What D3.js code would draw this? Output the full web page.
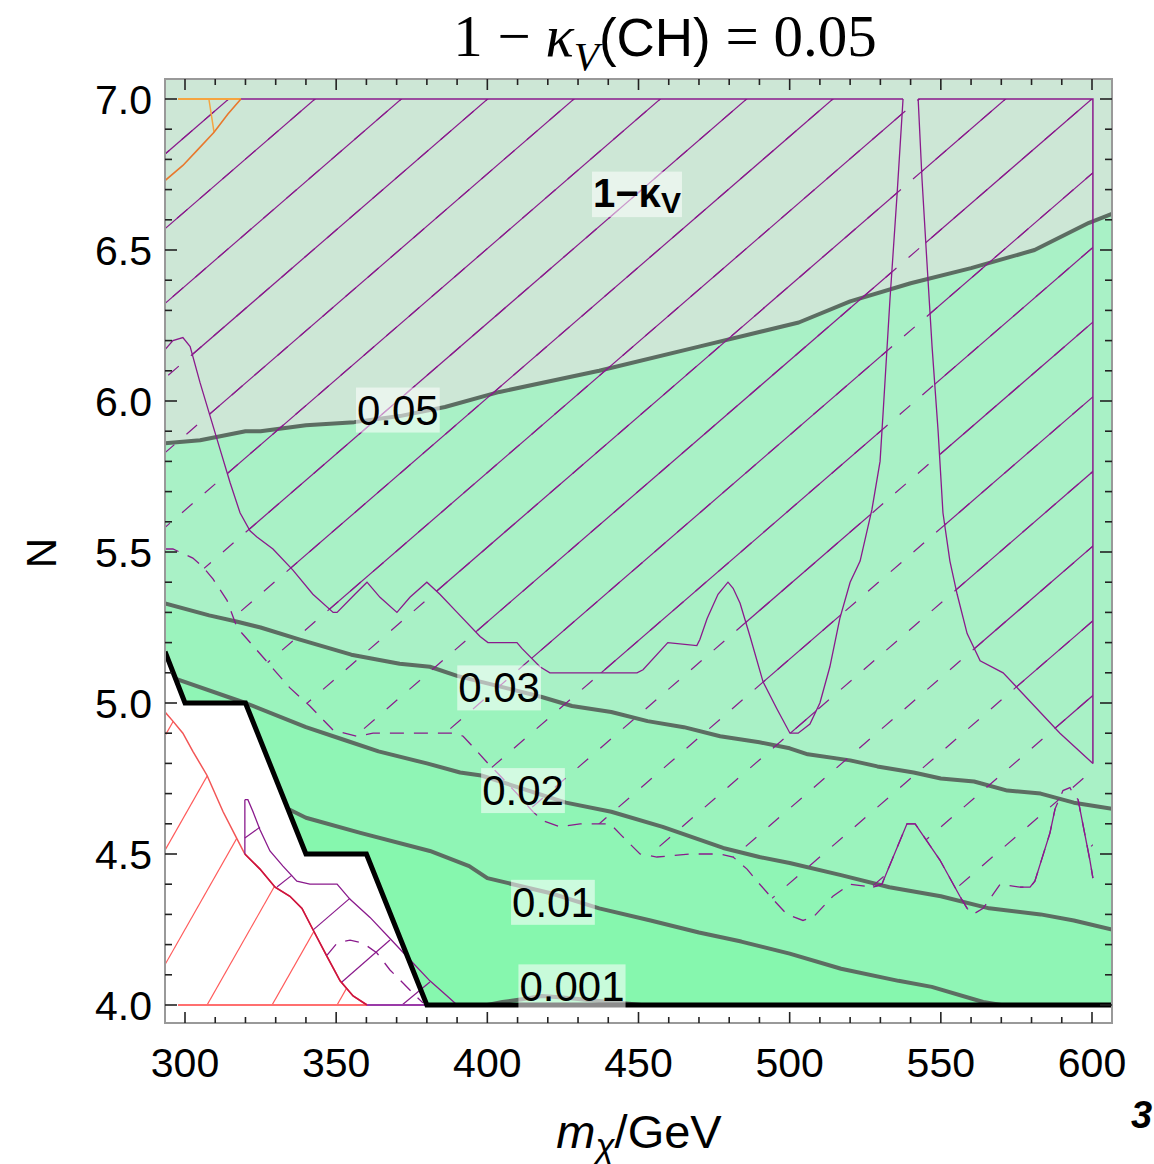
<!DOCTYPE html>
<html>
<head>
<meta charset="utf-8">
<script src="https://cdn.jsdelivr.net/npm/d3@7"></script>
<style>
  body { margin: 0; background: #fff; }
  text { font-family: "Liberation Sans", Arial, sans-serif; }
</style>
</head>
<body>
<svg id="chart" width="1154" height="1164"></svg>
<script>
// contour lines of 1-kappa_V, points are [m_chi (GeV), N]
const contour05 = [[293.4,5.86],[305,5.87],[320,5.90],[325,5.90],[340,5.92],[356,5.93],[371,5.95],[386,5.98],[404,6.03],[437,6.10],[470,6.18],[503,6.26],[520,6.33],[540,6.39],[560,6.44],[581,6.50],[599,6.59],[606.6,6.62]];
const contour03 = [[293.4,5.33],[308,5.29],[317,5.27],[325,5.25],[338,5.21],[355,5.16],[371,5.13],[381,5.12],[390,5.09],[418,5.02],[428,4.99],[441,4.97],[453,4.94],[465,4.92],[477,4.89],[490,4.87],[500,4.85],[506,4.83],[520,4.81],[529,4.79],[541,4.77],[550,4.75],[561,4.74],[572,4.71],[583,4.70],[594,4.67],[606.6,4.65]];
const contour02 = [[293.4,5.09],[297,5.08],[320,5.00],[340,4.92],[352,4.88],[364,4.84],[380,4.80],[391,4.77],[398,4.76],[426,4.67],[441,4.64],[458,4.59],[478,4.52],[490,4.49],[500,4.47],[517,4.43],[533,4.39],[550,4.36],[566,4.32],[583,4.30],[594,4.28],[606.6,4.25]];
const contour01 = [[293.4,4.65],[334,4.65],[340,4.62],[358,4.57],[381,4.51],[394,4.46],[400,4.42],[421,4.37],[437,4.32],[454,4.28],[470,4.24],[484,4.21],[500,4.17],[517,4.12],[536,4.08],[547,4.06],[564,4.01],[570,4.0],[606.6,4.0]];
const contour001 = [[400,4.0],[405,4.01],[412,4.02],[418,4.03],[425,4.025],[435,4.015],[446,4.005],[451,4.0]];
const contourLevels = ["0.05", "0.03", "0.02", "0.01", "0.001"];
const bandColors = ["#cde7d6", "#a9f1c6", "#9bf3bd", "#8ff5b5", "#86f7ae"];
const labelPos = [[370.4,5.97],[403.9,5.05],[411.8,4.71],[421.7,4.34],[428,4.06]];

// allowed-region edge (thick black)
const boundary = [[293.4,5.17],[300,5.0],[320,5.0],[340,4.5],[360,4.5],[380,4.0],[606.6,4.0]];

// solid-hatched purple region
const aBottom = [[293.4,6.17],[296,6.20],[299.3,6.21],[301.7,6.18],[305,6.06],[308.3,5.95],[311.6,5.84],[314.9,5.73],[318.2,5.63],[321.5,5.57],[323.8,5.55],[329.1,5.51],[335.7,5.44],[342.3,5.36],[349,5.30],[350.3,5.30],[356.2,5.36],[360.2,5.40],[364.5,5.35],[370.1,5.30],[374.4,5.35],[380,5.40],[384.3,5.36],[390,5.30],[397.6,5.22],[400.2,5.20],[409.8,5.20],[411.5,5.18],[417.4,5.12],[420.7,5.10],[430.7,5.10],[440.6,5.10],[449.5,5.10],[451.5,5.11],[459.7,5.20],[469.3,5.19],[470.3,5.21],[472.7,5.28],[476.3,5.36],[479.6,5.40],[481.3,5.38],[483.6,5.33],[486.9,5.22],[491.2,5.07],[495.8,4.98],[500.1,4.90],[502.8,4.90],[506.7,4.93],[510,5.00],[513.3,5.12],[516.6,5.28],[520,5.40],[523.3,5.47],[527.2,5.64],[529.9,5.80],[530.9,5.96],[533.2,6.34],[535.5,6.68],[537.5,7.0]];
const aRight = [[542.5,7.0],[543.8,6.73],[545.4,6.46],[547.1,6.18],[549.1,5.90],[550.7,5.63],[553,5.47],[555.4,5.36],[558.7,5.23],[563,5.14],[570.6,5.10],[577.2,5.03],[589.4,4.90],[600.3,4.80]];

// dashed-hatched purple region
const bBottom = [[293.4,5.51],[296,5.51],[302.6,5.48],[306,5.45],[309.3,5.41],[313.9,5.34],[317.2,5.25],[334.7,5.05],[341.3,4.99],[349,4.91],[356.9,4.89],[362.2,4.90],[381,4.90],[388.6,4.90],[392,4.89],[396.6,4.84],[400.2,4.80],[403.2,4.77],[409.8,4.70],[415.1,4.64],[418.4,4.61],[424,4.59],[430.7,4.60],[437.3,4.60],[440.6,4.60],[444.5,4.56],[450.5,4.50],[456.1,4.49],[467,4.50],[477,4.50],[481.3,4.49],[485.9,4.45],[489.2,4.41],[494.5,4.35],[499.1,4.30],[504.4,4.28],[507.7,4.29],[514.3,4.36],[520,4.40],[527.6,4.39],[530.5,4.40],[538.8,4.60],[541.5,4.60],[549.7,4.48],[556.3,4.36],[558.7,4.32],[560.6,4.30],[564,4.32],[569.6,4.40],[576.2,4.39],[579.5,4.39],[581.1,4.41],[586.1,4.57],[587.8,4.65],[590.4,4.71],[592.7,4.72],[593.7,4.70],[595.4,4.68],[599.3,4.48],[600.3,4.42]];
const bSolidParts = [
  [[527.6,4.39],[530.5,4.40],[538.8,4.60],[541.5,4.60],[549.7,4.48],[556.3,4.36],[558.7,4.32]],
  [[576.2,4.39],[579.5,4.39],[581.1,4.41],[586.1,4.57],[587.8,4.65]],
  [[595.4,4.68],[599.3,4.48],[600.3,4.42]]
];

// lower-left regions
const redCurve = [[293.4,4.97],[296,4.94],[299.3,4.90],[302.6,4.84],[307.3,4.76],[312.6,4.64],[317.2,4.55],[319.8,4.50],[324.8,4.45],[329.8,4.39],[334.7,4.36],[338.7,4.32],[342.3,4.25],[347,4.16],[351.3,4.08],[355.6,4.03],[360.2,4.0]];
const cRight = [[319.8,4.68],[320.8,4.68],[322.5,4.64],[324.8,4.58],[328.1,4.51],[332.4,4.46],[337,4.41],[341.3,4.40],[345.6,4.40],[350.3,4.40],[354.6,4.35],[361.2,4.29],[367.8,4.22],[374.4,4.15],[381,4.08],[386.7,4.03],[390,4.0]];
const cHatch = [[[319.8,4.553],[324.8,4.589]],[[330.4,4.391],[335.4,4.430]],[[342.3,4.248],[354.6,4.354]],[[351.9,4.076],[367.8,4.215]],[[371.8,4.0],[381,4.076]]];
const cDashed = [[347,4.165],[350.3,4.205],[354.6,4.215],[358.9,4.205],[363.5,4.172],[367.8,4.116],[372.1,4.073],[376.7,4.026],[378.7,4.007]];
const orangeCurve = [[293.4,6.73],[299.3,6.78],[304,6.83],[309.6,6.89],[314.2,6.95],[318.5,7.0]];
const orangeTop = [[297.7,7.0],[318.5,7.0]];
const orangeHatch = [[307.9,7.0],[309.6,6.89]];

const xTicks = [300, 350, 400, 450, 500, 550, 600];
const yTicks = [4.0, 4.5, 5.0, 5.5, 6.0, 6.5, 7.0];

const svg = d3.select("#chart");
const x = d3.scaleLinear().domain([300, 600]).range([185, 1092]);
const y = d3.scaleLinear().domain([4, 7]).range([1005, 99]);
const frame = { left: 165, right: 1112, top: 79, bottom: 1023 };
const xMin = x.invert(frame.left), xMax = x.invert(frame.right);
const yMin = y.invert(frame.bottom), yMax = y.invert(frame.top);

const line = d3.line().x(d => x(d[0])).y(d => y(d[1]));
const poly = pts => line(pts) + "Z";

const purple = "#8a1a8c";
const defs = svg.append("defs");
defs.append("clipPath").attr("id", "frameClip").append("rect")
  .attr("x", frame.left).attr("y", frame.top)
  .attr("width", frame.right - frame.left).attr("height", frame.bottom - frame.top);

const aPolys = [aBottom.concat([[xMin, 7]]), aRight.concat([[600.3, 7]])];
const clipA = defs.append("clipPath").attr("id", "clipA");
aPolys.forEach(p => clipA.append("path").attr("d", poly(p)));
defs.append("clipPath").attr("id", "clipB").append("path")
  .attr("d", poly(bBottom.concat([[600.3, 7], [xMin, 7]])));
defs.append("clipPath").attr("id", "clipRed").append("path")
  .attr("d", poly(redCurve.concat([[360.2, 4.0], [xMin, 4.0]])));

const plot = svg.append("g").attr("clip-path", "url(#frameClip)");

// filled bands
plot.append("rect").attr("x", frame.left).attr("y", frame.top)
  .attr("width", frame.right - frame.left).attr("height", frame.bottom - frame.top)
  .attr("fill", bandColors[0]);
[contour05, contour03, contour02, contour01].forEach((c, i) => {
  plot.append("path")
    .attr("d", poly(c.concat([[c[c.length - 1][0], yMin], [xMin, yMin], [xMin, c[0][1]]])))
    .attr("fill", bandColors[i + 1]);
});

// contour lines
[contour05, contour03, contour02, contour01, contour001].forEach(c => {
  plot.append("path").attr("d", line(c))
    .attr("fill", "none").attr("stroke", "#5c6d62").attr("stroke-width", 4)
    .attr("stroke-linejoin", "round");
});

// hatch lines (same family for both purple regions)
function hatch(x0, step, slope, nRef) {
  const out = [];
  for (let k = -40; k <= 40; k++) {
    const xk = x0 + k * step;
    out.push([[xk + (yMin - nRef) / slope, yMin], [xk + (yMax - nRef) / slope, yMax]]);
  }
  return out;
}
const purpleHatch = hatch(343, 28.55, 0.00866, 7);
plot.append("g").attr("clip-path", "url(#clipB)")
  .selectAll("path").data(purpleHatch).join("path")
  .attr("d", d => line(d)).attr("stroke", purple).attr("stroke-width", 1.2)
  .attr("stroke-dasharray", "14,16").attr("fill", "none");
plot.append("g").attr("clip-path", "url(#clipA)")
  .selectAll("path").data(purpleHatch).join("path")
  .attr("d", d => line(d)).attr("stroke", purple).attr("stroke-width", 1.2).attr("fill", "none");

// purple boundaries
plot.append("path").attr("d", line(bBottom)).attr("fill", "none")
  .attr("stroke", purple).attr("stroke-width", 1.3).attr("stroke-dasharray", "14,10");
bSolidParts.forEach(p => plot.append("path").attr("d", line(p)).attr("fill", "none")
  .attr("stroke", purple).attr("stroke-width", 1.3));
plot.append("path").attr("d", line(aBottom)).attr("fill", "none").attr("stroke", purple).attr("stroke-width", 1.3);
plot.append("path").attr("d", line(aRight)).attr("fill", "none").attr("stroke", purple).attr("stroke-width", 1.3);
plot.append("path").attr("d", line([[318.5, 7], [537.5, 7]])).attr("stroke", purple).attr("stroke-width", 1.5);
plot.append("path").attr("d", line([[542.5, 7], [600.3, 7], [600.3, 4.80]])).attr("fill", "none")
  .attr("stroke", purple).attr("stroke-width", 1.5);

// orange region (top left)
plot.append("path").attr("d", line(orangeTop)).attr("stroke", "#f5a440").attr("stroke-width", 1.8);
plot.append("path").attr("d", line(orangeHatch)).attr("stroke", "#f5a440").attr("stroke-width", 1.5);
plot.append("path").attr("d", line(orangeCurve)).attr("fill", "none").attr("stroke", "#e8782c").attr("stroke-width", 1.6);

// excluded white area
plot.append("path").attr("d", poly(boundary.concat([[xMax, yMin], [xMin, yMin]])))
  .attr("fill", "#fff");

// red hatched region
plot.append("g").attr("clip-path", "url(#clipRed)")
  .selectAll("path").data(hatch(307.3, 21.5, 0.01762, 4.0)).join("path")
  .attr("d", d => line(d)).attr("stroke", "#ff5a5a").attr("stroke-width", 1.2).attr("fill", "none");
plot.append("path").attr("d", line([[297.7, 4.0], [360.2, 4.0]])).attr("stroke", "#ff6f6f").attr("stroke-width", 2);
plot.append("path").attr("d", line(redCurve)).attr("fill", "none").attr("stroke", "#f25656").attr("stroke-width", 1.5);

// lower purple region
plot.selectAll(".chatch").data(cHatch).join("path").attr("class", "chatch")
  .attr("d", d => line(d)).attr("stroke", purple).attr("stroke-width", 1.2);
plot.append("path").attr("d", line(cRight)).attr("fill", "none").attr("stroke", purple).attr("stroke-width", 1.3);
plot.append("path").attr("d", line([[319.8, 4.68], [319.8, 4.50]])).attr("stroke", purple).attr("stroke-width", 1.3);
plot.append("path").attr("d", line(redCurve.filter(d => d[0] >= 319.8))).attr("fill", "none")
  .attr("stroke", "#cc1440").attr("stroke-width", 1.6);
plot.append("path").attr("d", line([[360.2, 4.0], [390, 4.0]])).attr("stroke", "#9a3aa8").attr("stroke-width", 2);
plot.append("path").attr("d", line(cDashed)).attr("fill", "none").attr("stroke", purple)
  .attr("stroke-width", 1.3).attr("stroke-dasharray", "14,10");

// black allowed-region edge
plot.append("path").attr("d", line(boundary)).attr("fill", "none")
  .attr("stroke", "#000").attr("stroke-width", 5).attr("stroke-linejoin", "miter");

// contour labels with pale boxes
function boxedLabel(g, px, py, build) {
  const t = g.append("text").attr("x", px).attr("y", py).attr("text-anchor", "middle")
    .attr("dominant-baseline", "central");
  build(t);
  const bb = t.node().getBBox();
  g.insert("rect", "text").attr("x", bb.x - 1).attr("y", bb.y + 1)
    .attr("width", bb.width + 2).attr("height", bb.height - 2)
    .attr("fill", "#fff").attr("fill-opacity", 0.55);
}
contourLevels.forEach((lev, i) => {
  const g = plot.append("g");
  boxedLabel(g, x(labelPos[i][0]), y(labelPos[i][1]), t => t.style("font-size", "42px").text(lev));
});
const kg = plot.append("g");
boxedLabel(kg, x(449.5), y(6.69), t => {
  t.style("font-size", "40px").style("font-weight", "bold");
  t.append("tspan").text("1−κ");
  t.append("tspan").attr("dy", 9).style("font-size", "30px").text("V");
});

// frame and ticks
svg.append("rect").attr("x", frame.left).attr("y", frame.top)
  .attr("width", frame.right - frame.left).attr("height", frame.bottom - frame.top)
  .attr("fill", "none").attr("stroke", "#999").attr("stroke-width", 2);
const tickG = svg.append("g").attr("stroke", "#222").attr("stroke-width", 1.6);
d3.range(300, 601, 10).forEach(v => {
  const len = v % 50 === 0 ? 11 : 6;
  tickG.append("line").attr("x1", x(v)).attr("x2", x(v)).attr("y1", frame.bottom).attr("y2", frame.bottom - len);
  tickG.append("line").attr("x1", x(v)).attr("x2", x(v)).attr("y1", frame.top).attr("y2", frame.top + len);
});
d3.range(40, 71, 1).forEach(v10 => {
  const v = v10 / 10;
  const len = v10 % 5 === 0 ? 12 : 7;
  tickG.append("line").attr("y1", y(v)).attr("y2", y(v)).attr("x1", frame.left).attr("x2", frame.left + len);
  tickG.append("line").attr("y1", y(v)).attr("y2", y(v)).attr("x1", frame.right).attr("x2", frame.right - len);
});

svg.selectAll(".xtl").data(xTicks).join("text").attr("class", "xtl")
  .attr("x", d => x(d)).attr("y", 1077).attr("text-anchor", "middle")
  .style("font-size", "41px").text(d => d);
svg.selectAll(".ytl").data(yTicks).join("text").attr("class", "ytl")
  .attr("x", 152).attr("y", d => y(d) + 15).attr("text-anchor", "end")
  .style("font-size", "41px").text(d => d.toFixed(1));

// axis titles
svg.append("text").attr("transform", "translate(56,553) rotate(-90)")
  .attr("text-anchor", "middle").style("font-size", "42px").text("N");
const xt = svg.append("text").attr("x", 639).attr("y", 1148).attr("text-anchor", "middle").style("font-size", "47px");
xt.append("tspan").style("font-style", "italic").text("m");
xt.append("tspan").style("font-style", "italic").style("font-size", "35px").attr("dy", 10).text("χ");
xt.append("tspan").attr("dy", -10).text("/GeV");

// title
const title = svg.append("text").attr("x", 665).attr("y", 56).attr("text-anchor", "middle")
  .style("font-family", "'Liberation Serif', 'Times New Roman', serif").style("font-size", "59px");
title.append("tspan").text("1 − ");
title.append("tspan").style("font-style", "italic").text("κ");
title.append("tspan").style("font-style", "italic").style("font-size", "41px").attr("dy", 14).text("V");
title.append("tspan").attr("dy", -14).style("font-family", "'Liberation Sans', Arial, sans-serif").style("font-size", "53px").text("(CH)");
title.append("tspan").text(" = 0.05");

// stray panel number at the right edge
svg.append("text").attr("x", 1131).attr("y", 1128).style("font-size", "38px")
  .style("font-weight", "bold").style("font-style", "italic").text("3");
</script>
</body>
</html>
